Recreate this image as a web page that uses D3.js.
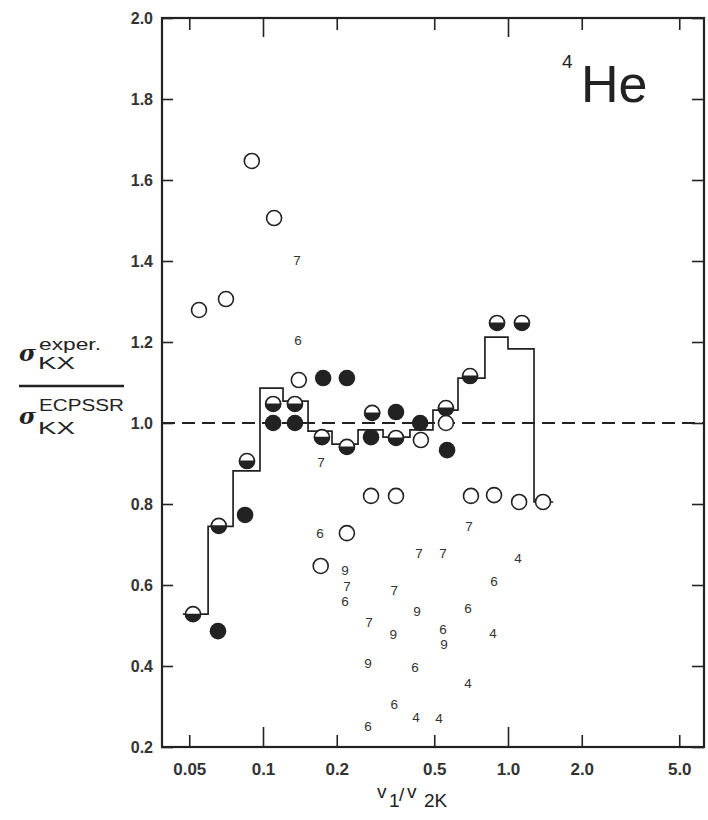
<!DOCTYPE html>
<html>
<head>
<meta charset="utf-8">
<script src="https://cdn.jsdelivr.net/npm/d3@7"></script>
<style>
  body { margin: 0; background: #fff; }
  svg { display: block; }
</style>
</head>
<body>
<div id="vis"></div>
<script>
// open circles
var openX = [0.0548, 0.0706, 0.090, 0.111, 0.140, 0.172, 0.220, 0.276, 0.349, 0.441, 0.558, 0.706, 0.877, 1.11, 1.39];
var openY = [1.279, 1.306, 1.647, 1.506, 1.106, 0.647, 0.728, 0.820, 0.820, 0.958, 1.000, 0.820, 0.822, 0.805, 0.805];

// half filled (lower half black)
var halfX = [0.0518, 0.066, 0.086, 0.110, 0.135, 0.174, 0.220, 0.279, 0.349, 0.558, 0.700, 0.902, 1.14];
var halfY = [0.528, 0.746, 0.906, 1.047, 1.047, 0.965, 0.941, 1.025, 0.963, 1.037, 1.116, 1.247, 1.247];

// solid circles
var fullX = [0.0655, 0.0845, 0.110, 0.135, 0.176, 0.220, 0.276, 0.349, 0.438, 0.564];
var fullY = [0.486, 0.773, 1.000, 1.000, 1.111, 1.111, 0.965, 1.027, 1.000, 0.933];

// histogram (step) line
var stepEdges = [0.0471, 0.0597, 0.0755, 0.0972, 0.1207, 0.1527, 0.1913, 0.2443, 0.309, 0.398, 0.494, 0.625, 0.805, 1.0, 1.277, 1.53];
var stepLevels = [0.528, 0.745, 0.882, 1.086, 1.054, 0.980, 0.948, 0.983, 0.965, 0.983, 1.032, 1.111, 1.212, 1.183, 0.805];

// numbered points
var numX = [0.1377, 0.1389, 0.1725, 0.171, 0.693, 0.216, 0.220, 0.216, 0.433, 0.543, 1.099, 0.877, 0.343, 0.425, 0.687, 0.271, 0.340, 0.543, 0.548, 0.869, 0.268, 0.417, 0.687, 0.343, 0.421, 0.523, 0.268];
var numY = [1.402, 1.205, 0.904, 0.728, 0.746, 0.637, 0.597, 0.560, 0.679, 0.679, 0.667, 0.610, 0.588, 0.536, 0.543, 0.509, 0.479, 0.490, 0.453, 0.481, 0.407, 0.398, 0.358, 0.306, 0.274, 0.272, 0.252];
var numText = ["7", "6", "7", "6", "7", "9", "7", "6", "7", "7", "4", "6", "7", "9", "6", "7", "9", "6", "9", "4", "9", "6", "4", "6", "4", "4", "6"];

var xTicks = [0.05, 0.1, 0.2, 0.5, 1.0, 2.0, 5.0];
var xTickLabels = ["0.05", "0.1", "0.2", "0.5", "1.0", "2.0", "5.0"];
var yTicks = [0.2, 0.4, 0.6, 0.8, 1.0, 1.2, 1.4, 1.6, 1.8, 2.0];

function draw() {
  var width = 708, height = 820;
  var left = 162, right = 704, top = 18, bottom = 747;
  var ink = "#222";
  var font = "'Liberation Sans', Arial, Helvetica, sans-serif";
  var r = 7.5;

  var svg = d3.select("#vis").append("svg")
              .attr("width", width)
              .attr("height", height);

  var x = d3.scaleLog()
            .domain([Math.pow(10, -1 - 101 / 245), Math.pow(10, 196 / 245)])
            .range([left, right]);
  var y = d3.scaleLinear().domain([0.2, 2.0]).range([bottom, top]);

  function isDecade(d) { return d === 0.1 || d === 1.0; }

  // bottom axis with labels
  var gx = svg.append("g")
              .attr("transform", "translate(0," + bottom + ")")
              .call(d3.axisBottom(x).tickValues(xTicks)
                      .tickFormat(function(d, i) { return xTickLabels[i]; })
                      .tickSize(-12).tickPadding(16));
  gx.selectAll(".tick line").attr("y2", function(d) { return isDecade(d) ? -20 : -12; });

  // top axis, ticks only
  var gt = svg.append("g")
              .attr("transform", "translate(0," + top + ")")
              .call(d3.axisTop(x).tickValues(xTicks).tickFormat("").tickSize(-12));
  gt.selectAll(".tick line").attr("y2", function(d) { return isDecade(d) ? 19 : 12; });

  var gy = svg.append("g")
              .attr("transform", "translate(" + left + ",0)")
              .call(d3.axisLeft(y).tickValues(yTicks)
                      .tickFormat(d3.format(".1f"))
                      .tickSize(-11).tickPadding(9));

  var gr = svg.append("g")
              .attr("transform", "translate(" + right + ",0)")
              .call(d3.axisRight(y).tickValues(yTicks).tickFormat("").tickSize(-12));

  [gx, gt, gy, gr].forEach(function(g) {
    g.select(".domain").remove();
    g.selectAll(".tick line").attr("stroke", ink).attr("stroke-width", 1.6);
    g.selectAll(".tick text")
     .attr("fill", "#333")
     .attr("font-family", font)
     .attr("font-weight", "bold")
     .attr("font-size", 16);
  });
  gx.selectAll(".tick text").attr("font-size", 17);

  // frame
  svg.append("rect")
     .attr("x", left).attr("y", top)
     .attr("width", right - left).attr("height", bottom - top)
     .attr("fill", "none")
     .attr("stroke", ink)
     .attr("stroke-width", 2.2);

  // dashed unity line
  svg.append("line")
     .attr("x1", left).attr("x2", right)
     .attr("y1", y(1.0)).attr("y2", y(1.0))
     .attr("stroke", ink)
     .attr("stroke-width", 2)
     .attr("stroke-dasharray", "13,7");

  // step line
  var stepPts = [];
  stepLevels.forEach(function(v, i) {
    stepPts.push([stepEdges[i], v]);
    stepPts.push([stepEdges[i + 1], v]);
  });
  var line = d3.line()
               .x(function(d) { return x(d[0]); })
               .y(function(d) { return y(d[1]); });
  svg.append("path")
     .datum(stepPts)
     .attr("d", line)
     .attr("fill", "none")
     .attr("stroke", ink)
     .attr("stroke-width", 1.7);

  // open circles
  svg.append("g").selectAll("circle")
     .data(openX)
     .join("circle")
     .attr("cx", function(d) { return x(d); })
     .attr("cy", function(d, i) { return y(openY[i]); })
     .attr("r", r)
     .attr("fill", "#fff")
     .attr("stroke", ink)
     .attr("stroke-width", 1.6);

  // solid circles
  svg.append("g").selectAll("circle")
     .data(fullX)
     .join("circle")
     .attr("cx", function(d) { return x(d); })
     .attr("cy", function(d, i) { return y(fullY[i]); })
     .attr("r", r + 0.8)
     .attr("fill", ink);

  // half filled circles
  var halves = svg.append("g").selectAll("g")
     .data(halfX)
     .join("g")
     .attr("transform", function(d, i) {
       return "translate(" + x(d) + "," + y(halfY[i]) + ")";
     });
  halves.append("circle")
        .attr("r", r)
        .attr("fill", "#fff")
        .attr("stroke", ink)
        .attr("stroke-width", 1.6);
  halves.append("path")
        .attr("d", "M" + (-r - 0.8) + ",-0.5 A" + (r + 0.8) + "," + (r + 0.8) + " 0 0 0 " + (r + 0.8) + ",-0.5 Z")
        .attr("fill", ink);

  // numbered points
  svg.append("g").selectAll("text")
     .data(numX)
     .join("text")
     .attr("x", function(d) { return x(d); })
     .attr("y", function(d, i) { return y(numY[i]); })
     .attr("dy", "0.36em")
     .attr("text-anchor", "middle")
     .attr("font-family", font)
     .attr("font-size", 13.5)
     .attr("fill", "#333")
     .text(function(d, i) { return numText[i]; });

  // 4He
  svg.append("text")
     .attr("x", 562).attr("y", 68)
     .attr("font-family", font)
     .attr("font-size", 19)
     .attr("fill", ink)
     .text("4");
  svg.append("text")
     .attr("x", 581).attr("y", 102)
     .attr("font-family", font)
     .attr("font-size", 52)
     .attr("fill", ink)
     .text("He");

  // y label (ratio)
  var yl = svg.append("g").attr("fill", ink).attr("font-family", font);
  yl.append("text").attr("x", 19).attr("y", 361)
    .attr("font-family", "'DejaVu Serif', serif")
    .attr("font-style", "italic").attr("font-weight", "bold")
    .attr("font-size", 23).text("σ");
  yl.append("text").attr("x", 39).attr("y", 350)
    .attr("font-size", 17).attr("textLength", 62).attr("lengthAdjust", "spacingAndGlyphs")
    .text("exper.");
  yl.append("text").attr("x", 38).attr("y", 369)
    .attr("font-size", 17).attr("textLength", 37).attr("lengthAdjust", "spacingAndGlyphs")
    .text("KX");
  yl.append("line")
    .attr("x1", 19).attr("x2", 124).attr("y1", 386).attr("y2", 386)
    .attr("stroke", ink).attr("stroke-width", 2.5);
  yl.append("text").attr("x", 39).attr("y", 411)
    .attr("font-size", 16).attr("textLength", 85).attr("lengthAdjust", "spacingAndGlyphs")
    .text("ECPSSR");
  yl.append("text").attr("x", 19).attr("y", 424)
    .attr("font-family", "'DejaVu Serif', serif")
    .attr("font-style", "italic").attr("font-weight", "bold")
    .attr("font-size", 23).text("σ");
  yl.append("text").attr("x", 38).attr("y", 434)
    .attr("font-size", 17).attr("textLength", 37).attr("lengthAdjust", "spacingAndGlyphs")
    .text("KX");

  // x label  v1/v2K
  var xl = svg.append("text")
              .attr("font-family", font)
              .attr("fill", ink)
              .attr("font-size", 19);
  xl.append("tspan").attr("x", 377).attr("y", 798).attr("font-size", 19).text("v");
  xl.append("tspan").attr("x", 389).attr("y", 807).text("1");
  xl.append("tspan").attr("x", 399).attr("y", 801).text("/");
  xl.append("tspan").attr("x", 407).attr("y", 798).attr("font-size", 19).text("v");
  xl.append("tspan").attr("x", 424).attr("y", 807).text("2K");
}

draw();
</script>
</body>
</html>
